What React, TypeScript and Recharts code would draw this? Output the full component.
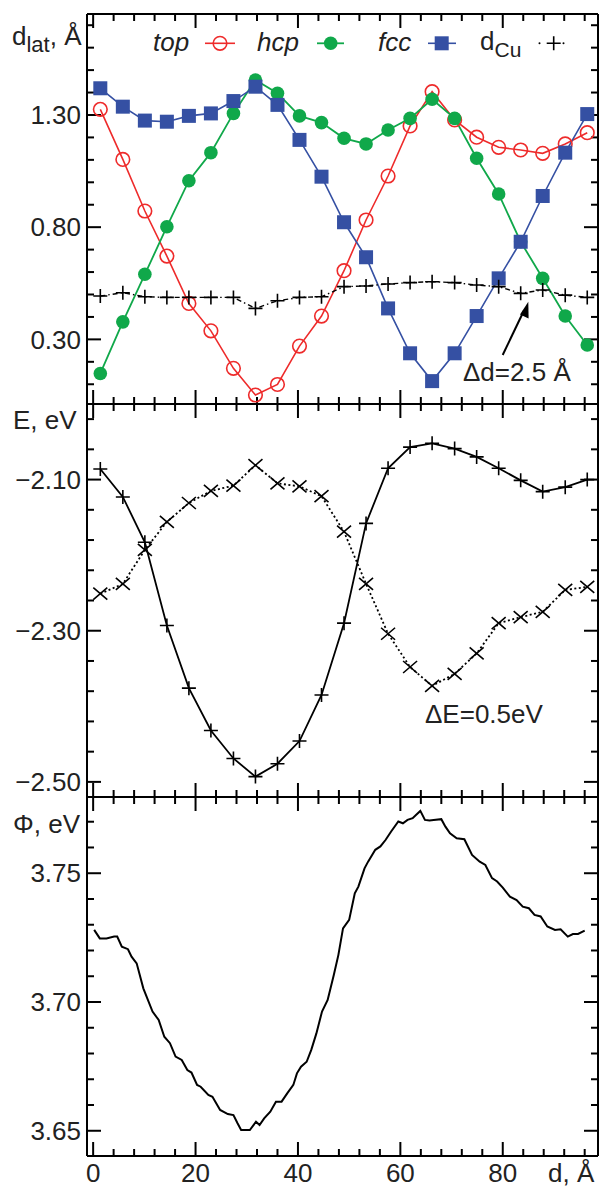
import { Line, LineChart, ReferenceLine, XAxis, YAxis } from 'recharts'

const FONT = '"Liberation Sans", Arial, sans-serif'
const RED = '#ee2b2b'
const GREEN = '#10a84a'
const BLUE = '#3550a3'

// positions along the interface, Å
const dPos = [1.4, 5.8, 10.1, 14.4, 18.7, 23.0, 27.4, 31.7, 36.0, 40.3, 44.6, 49.0, 53.3, 57.6, 61.9, 66.2, 70.6, 74.9, 79.2, 83.5, 87.8, 92.2, 96.5]

// d_lat per site, Å
const dTop = [1.325, 1.102, 0.872, 0.671, 0.46, 0.338, 0.171, 0.052, 0.099, 0.27, 0.404, 0.606, 0.832, 1.028, 1.251, 1.404, 1.278, 1.201, 1.156, 1.144, 1.129, 1.171, 1.221]
const dHcp = [0.148, 0.378, 0.59, 0.802, 1.007, 1.132, 1.307, 1.456, 1.397, 1.296, 1.266, 1.196, 1.171, 1.233, 1.285, 1.37, 1.285, 1.107, 0.948, 0.735, 0.572, 0.404, 0.275]
const dFcc = [1.419, 1.337, 1.275, 1.27, 1.296, 1.307, 1.362, 1.426, 1.345, 1.189, 1.025, 0.822, 0.666, 0.438, 0.238, 0.114, 0.238, 0.404, 0.572, 0.735, 0.939, 1.132, 1.304]
const dCu = [0.493, 0.508, 0.49, 0.487, 0.487, 0.487, 0.487, 0.438, 0.472, 0.487, 0.49, 0.535, 0.538, 0.547, 0.553, 0.557, 0.553, 0.542, 0.535, 0.505, 0.52, 0.497, 0.487]

// energies, eV
const ePlus = [-2.086, -2.123, -2.183, -2.293, -2.376, -2.432, -2.469, -2.493, -2.476, -2.446, -2.385, -2.29, -2.158, -2.085, -2.057, -2.052, -2.059, -2.07, -2.085, -2.101, -2.116, -2.11, -2.1]
const eCross = [-2.251, -2.238, -2.193, -2.156, -2.131, -2.115, -2.108, -2.081, -2.105, -2.109, -2.122, -2.169, -2.238, -2.304, -2.348, -2.373, -2.357, -2.33, -2.29, -2.282, -2.275, -2.246, -2.242]

// work function trace
const phiD = [0.2, 1.3, 2.6, 4.1, 4.7, 5.6, 6.8, 7.5, 8.5, 9.8, 11.6, 12.8, 13.9, 15.0, 16.1, 17.3, 18.4, 19.2, 20.3, 21.0, 22.5, 23.3, 24.8, 26.3, 27.4, 28.2, 28.9, 30.6, 31.8, 32.5, 33.4, 34.6, 35.7, 36.8, 37.9, 39.1, 39.8, 40.6, 41.7, 42.6, 43.6, 44.7, 45.8, 47.0, 47.9, 48.8, 50.0, 51.1, 51.8, 53.0, 53.7, 55.1, 56.1, 57.1, 58.2, 59.6, 60.5, 61.4, 62.4, 63.1, 63.9, 64.8, 65.7, 66.5, 68.0, 68.8, 69.7, 71.0, 72.5, 74.0, 75.5, 76.6, 77.9, 78.9, 80.0, 81.4, 82.7, 83.9, 85.1, 86.2, 87.4, 88.7, 90.2, 91.3, 92.7, 93.7, 94.7, 96.0]
const phiV = [3.728, 3.7247, 3.7247, 3.7254, 3.7254, 3.7215, 3.7205, 3.7176, 3.715, 3.7053, 3.6963, 3.693, 3.6865, 3.684, 3.6788, 3.6775, 3.6736, 3.6726, 3.6678, 3.6671, 3.6639, 3.6632, 3.6581, 3.6565, 3.6561, 3.6529, 3.6503, 3.6503, 3.6535, 3.6522, 3.6548, 3.6574, 3.6613, 3.6613, 3.6645, 3.6678, 3.6723, 3.6749, 3.6768, 3.6814, 3.6878, 3.6963, 3.7008, 3.7105, 3.7183, 3.7286, 3.7319, 3.7422, 3.7448, 3.7519, 3.7545, 3.7591, 3.7604, 3.7629, 3.7662, 3.7701, 3.7694, 3.7707, 3.7714, 3.7727, 3.7742, 3.7707, 3.7705, 3.7707, 3.771, 3.7681, 3.7655, 3.7636, 3.7632, 3.7571, 3.7545, 3.7532, 3.7481, 3.7468, 3.7444, 3.7409, 3.7396, 3.737, 3.7364, 3.7338, 3.7332, 3.7293, 3.728, 3.7282, 3.7254, 3.7264, 3.7264, 3.7277]

const xTicks = [0, 4, 8, 12, 16, 20, 24, 28, 32, 36, 40, 44, 48, 52, 56, 60, 64, 68, 72, 76, 80, 84, 88, 92, 96]
const xLabels = [0, 20, 40, 60, 80]
const latTicks = [0.1, 0.2, 0.3, 0.4, 0.5, 0.6, 0.7, 0.8, 0.9, 1.0, 1.1, 1.2, 1.3, 1.4, 1.5, 1.6, 1.7]
const latLabels = [0.3, 0.8, 1.3]
const eTicks = [-2.5, -2.46, -2.42, -2.38, -2.34, -2.3, -2.26, -2.22, -2.18, -2.14, -2.1, -2.06, -2.02]
const eLabels = [-2.5, -2.3, -2.1]
const phiTicks = [3.65, 3.66, 3.67, 3.68, 3.69, 3.7, 3.71, 3.72, 3.73, 3.74, 3.75, 3.76, 3.77]
const phiLabels = [3.65, 3.7, 3.75]

const X_DOMAIN: [number, number] = [-1.2, 98.6]
const PLOT_W = 511

const siteData = dPos.map((d, i) => ({
  d,
  top: dTop[i],
  hcp: dHcp[i],
  fcc: dFcc[i],
  cu: dCu[i],
  ePlus: ePlus[i],
  eCross: eCross[i],
}))
const phiData = phiD.map((d, i) => ({ d, phi: phiV[i] }))

const isIn = (list: number[], v: number) => list.some((m) => Math.abs(m - v) < 1e-6)

// inward ticks on all four sides of a panel, drawn as reference segments
function frameTicks(yTicks: number[], yLabels: number[], yDom: [number, number], plotH: number) {
  const [x0, x1] = X_DOMAIN
  const [y0, y1] = yDom
  const perPxY = (y1 - y0) / plotH
  const perPxX = (x1 - x0) / PLOT_W
  const out: any[] = []
  xTicks.forEach((t) => {
    const len = (isIn(xLabels, t) ? 14 : 7) * perPxY
    out.push(<ReferenceLine key={`xb${t}`} segment={[{ x: t, y: y0 }, { x: t, y: y0 + len }]} stroke="#000" strokeWidth={2} />)
    out.push(<ReferenceLine key={`xt${t}`} segment={[{ x: t, y: y1 }, { x: t, y: y1 - len }]} stroke="#000" strokeWidth={2} />)
  })
  yTicks.forEach((t) => {
    const len = (isIn(yLabels, t) ? 14 : 7) * perPxX
    out.push(<ReferenceLine key={`yl${t}`} segment={[{ x: x0, y: t }, { x: x0 + len, y: t }]} stroke="#000" strokeWidth={2} />)
    out.push(<ReferenceLine key={`yr${t}`} segment={[{ x: x1, y: t }, { x: x1 - len, y: t }]} stroke="#000" strokeWidth={2} />)
  })
  out.push(<ReferenceLine key="top" y={y1} stroke="#000" strokeWidth={2} />)
  out.push(<ReferenceLine key="right" x={x1} stroke="#000" strokeWidth={2} />)
  return out
}

const fmtY = (v: number) => v.toFixed(2).replace('-', '\u2212')
const tickText = { fontSize: 26, fill: '#222', fontFamily: FONT }

const openCircle = (p: any) => (
  <circle key={`t${p.index}`} cx={p.cx} cy={p.cy} r={6.8} fill="none" stroke={RED} strokeWidth={1.6} />
)
const filledCircle = (p: any) => <circle key={`h${p.index}`} cx={p.cx} cy={p.cy} r={6.8} fill={GREEN} />
const square = (p: any) => <rect key={`f${p.index}`} x={p.cx - 7} y={p.cy - 7} width={14} height={14} fill={BLUE} />
const plus = (p: any) => (
  <path key={`p${p.index}`} d={`M${p.cx - 7} ${p.cy}H${p.cx + 7}M${p.cx} ${p.cy - 7}V${p.cy + 7}`} stroke="#000" strokeWidth={1.6} />
)
const cross = (p: any) => (
  <path
    key={`x${p.index}`}
    d={`M${p.cx - 7} ${p.cy - 6}L${p.cx + 7} ${p.cy + 6}M${p.cx - 7} ${p.cy + 6}L${p.cx + 7} ${p.cy - 6}`}
    stroke="#000"
    strokeWidth={1.6}
  />
)

const axisLine = { stroke: '#000', strokeWidth: 2 }

export default function App() {
  return (
    <div style={{ position: 'absolute', left: 0, top: 0, width: 601, height: 1188, background: '#fff' }}>
      {/* d_lat panel */}
      <div style={{ position: 'absolute', left: 0, top: 0 }}>
        <LineChart width={601} height={420} data={siteData} margin={{ top: 14, right: 3, bottom: 16, left: 0 }}>
          <XAxis type="number" dataKey="d" domain={X_DOMAIN} ticks={xTicks} height={0} tick={false} tickLine={false} axisLine={axisLine} />
          <YAxis type="number" domain={[0.012, 1.75]} ticks={latLabels} interval={0} width={87} tickSize={0} tickMargin={6} tickLine={false} axisLine={axisLine} tick={tickText} tickFormatter={fmtY} />
          {frameTicks(latTicks, latLabels, [0.012, 1.75], 390)}
          <Line dataKey="top" type="linear" stroke={RED} strokeWidth={1.6} dot={openCircle} activeDot={false} isAnimationActive={false} />
          <Line dataKey="hcp" type="linear" stroke={GREEN} strokeWidth={1.8} dot={filledCircle} activeDot={false} isAnimationActive={false} />
          <Line dataKey="fcc" type="linear" stroke={BLUE} strokeWidth={1.6} dot={square} activeDot={false} isAnimationActive={false} />
          <Line dataKey="cu" type="linear" stroke="#000" strokeWidth={1.4} strokeDasharray="5 3 1.5 3" dot={plus} activeDot={false} isAnimationActive={false} />
        </LineChart>
      </div>

      {/* energy panel */}
      <div style={{ position: 'absolute', left: 0, top: 390 }}>
        <LineChart width={601} height={420} data={siteData} margin={{ top: 14, right: 3, bottom: 13, left: 0 }}>
          <XAxis type="number" dataKey="d" domain={X_DOMAIN} ticks={xTicks} height={0} tick={false} tickLine={false} axisLine={axisLine} />
          <YAxis type="number" domain={[-2.52, -2.0]} ticks={eLabels} interval={0} width={87} tickSize={0} tickMargin={6} tickLine={false} axisLine={axisLine} tick={tickText} tickFormatter={fmtY} />
          {frameTicks(eTicks, eLabels, [-2.52, -2.0], 393)}
          <Line dataKey="eCross" type="linear" stroke="#000" strokeWidth={1.8} strokeDasharray="2 2.5" dot={cross} activeDot={false} isAnimationActive={false} />
          <Line dataKey="ePlus" type="linear" stroke="#000" strokeWidth={1.8} dot={plus} activeDot={false} isAnimationActive={false} />
        </LineChart>
      </div>

      {/* work function panel */}
      <div style={{ position: 'absolute', left: 0, top: 783 }}>
        <LineChart width={601} height={405} data={phiData} margin={{ top: 14, right: 3, bottom: 0, left: 0 }}>
          <XAxis type="number" dataKey="d" domain={X_DOMAIN} ticks={xLabels} interval={0} height={32} tickSize={0} tickMargin={8} tickLine={false} axisLine={axisLine} tick={tickText} />
          <YAxis type="number" domain={[3.6402, 3.7796]} ticks={phiLabels} interval={0} width={87} tickSize={0} tickMargin={6} tickLine={false} axisLine={axisLine} tick={tickText} tickFormatter={fmtY} />
          {frameTicks(phiTicks, phiLabels, [3.6402, 3.7796], 359)}
          <Line dataKey="phi" type="linear" stroke="#000" strokeWidth={2} dot={false} activeDot={false} isAnimationActive={false} />
        </LineChart>
      </div>

      {/* titles, legend, annotations */}
      <svg width={601} height={1188} style={{ position: 'absolute', left: 0, top: 0, pointerEvents: 'none' }} fontFamily={FONT} fontSize={26} fill="#222">
        <text x={12} y={45}>
          d<tspan fontSize={22} dy={7}>lat</tspan>
          <tspan dy={-7}>, Å</tspan>
        </text>
        <text x={13} y={429}>E, eV</text>
        <text x={13} y={833}>Φ, eV</text>
        <text x={548} y={1182}>d, Å</text>

        <text x={153} y={51} fontStyle="italic">top</text>
        <line x1={205} y1={43.3} x2={235} y2={43.3} stroke={RED} strokeWidth={1.6} />
        <circle cx={220} cy={43.3} r={6.8} fill="none" stroke={RED} strokeWidth={1.6} />
        <text x={257} y={51} fontStyle="italic">hcp</text>
        <line x1={317} y1={43.3} x2={344} y2={43.3} stroke={GREEN} strokeWidth={1.8} />
        <circle cx={330.7} cy={43.3} r={6.8} fill={GREEN} />
        <text x={378} y={51} fontStyle="italic">fcc</text>
        <line x1={428} y1={43.3} x2={456} y2={43.3} stroke={BLUE} strokeWidth={1.6} />
        <rect x={434.7} y={36.3} width={14} height={14} fill={BLUE} />
        <text x={480} y={50}>
          d<tspan fontSize={21} dy={7}>Cu</tspan>
        </text>
        <circle cx={539.5} cy={43.3} r={1} fill="#000" />
        <path d="M546.7 43.3H560.7M553.7 36.3V50.3" stroke="#000" strokeWidth={1.6} />
        <circle cx={563.5} cy={43.3} r={1} fill="#000" />

        <line x1={502.7} y1={355} x2={524} y2={310.5} stroke="#000" strokeWidth={2} />
        <path d="M528.3 301.7 L520 314.5 L528.6 318.6 Z" fill="#000" />
        <text x={463} y={381}>Δd=2.5 Å</text>
        <text x={425} y={723}>ΔE=0.5eV</text>
      </svg>
    </div>
  )
}
